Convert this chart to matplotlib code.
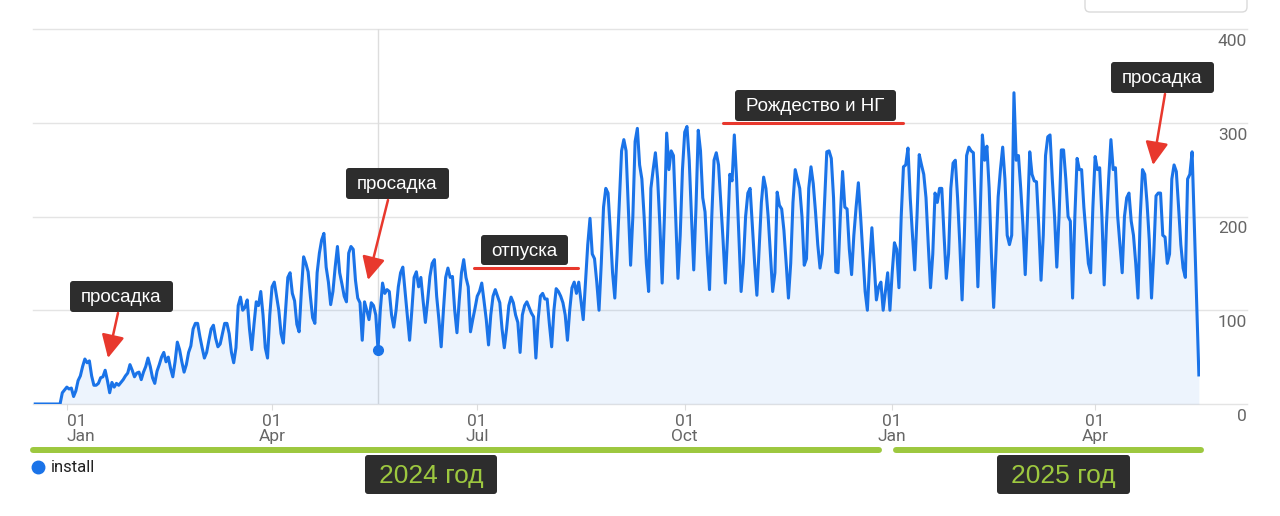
import matplotlib
matplotlib.use('Agg')
import matplotlib.pyplot as plt
from matplotlib.patches import FancyBboxPatch, FancyArrowPatch
from matplotlib.lines import Line2D
from matplotlib.transforms import IdentityTransform
import pandas as pd

# daily installs, one list per month (first list starts 18 Dec 2023)
start_date = '2023-12-18'
dec_2023 = [0, 0, 0, 0, 0, 0, 0, 0, 0, 0, 0, 0, 12, 15]
jan_2024 = [18, 16, 17, 8, 14, 25, 30, 40, 48, 44, 46, 30, 20, 20, 22, 28, 29, 36, 25, 12,
            23, 18, 22, 20, 23, 26, 30, 33, 42, 36, 29]
feb_2024 = [33, 34, 26, 34, 40, 49, 40, 28, 22, 35, 42, 50, 55, 45, 50, 38, 29, 45, 66, 58,
            45, 34, 42, 55, 62, 80, 86, 86, 72]
mar_2024 = [60, 49, 55, 68, 80, 84, 70, 61, 64, 75, 86, 86, 75, 55, 44, 60, 105, 114, 100, 103,
            111, 80, 58, 85, 109, 105, 120, 95, 60, 49, 95]
apr_2024 = [125, 130, 115, 100, 75, 65, 100, 135, 140, 118, 110, 85, 77, 120, 157, 150, 141, 115, 92, 86,
            140, 161, 175, 182, 146, 130, 106, 120, 146, 168]
may_2024 = [140, 128, 115, 109, 161, 168, 165, 132, 113, 108, 68, 109, 100, 90, 108, 105, 95, 58, 100, 129,
            118, 122, 120, 95, 82, 100, 125, 140, 146, 120, 95]
jun_2024 = [68, 100, 135, 141, 125, 135, 110, 87, 110, 136, 150, 154, 115, 90, 61, 100, 135, 145, 135, 136,
            100, 76, 110, 140, 154, 135, 125, 77, 90, 102]
jul_2024 = [115, 120, 129, 110, 90, 63, 95, 115, 122, 115, 108, 80, 60, 80, 105, 114, 108, 95, 87, 55,
            95, 105, 109, 103, 97, 93, 49, 90, 115, 118, 112]
aug_2024 = [112, 85, 61, 100, 123, 120, 115, 108, 95, 68, 100, 124, 130, 118, 130, 110, 90, 130, 170, 198,
            160, 155, 130, 100, 150, 210, 230, 225, 185, 140, 113]
sep_2024 = [160, 215, 270, 282, 270, 210, 148, 200, 280, 294, 255, 240, 200, 150, 120, 230, 250, 268, 240, 190,
            129, 200, 289, 250, 270, 265, 200, 134, 180, 250]
oct_2024 = [290, 296, 260, 200, 143, 210, 292, 270, 220, 205, 160, 122, 200, 260, 268, 255, 215, 175, 129, 180,
            245, 238, 287, 240, 180, 120, 150, 200, 225, 230, 190]
nov_2024 = [150, 116, 165, 215, 242, 230, 200, 160, 120, 140, 226, 212, 208, 185, 150, 113, 150, 215, 250, 240,
            230, 200, 148, 155, 230, 253, 235, 205, 170, 145]
dec_2024 = [160, 215, 269, 270, 262, 220, 141, 140, 200, 248, 210, 208, 165, 138, 180, 210, 236, 200, 160, 120,
            100, 150, 188, 150, 111, 125, 130, 100, 120, 140, 100]
jan_2025 = [140, 172, 165, 124, 200, 253, 255, 273, 220, 180, 143, 200, 266, 255, 245, 220, 170, 124, 160, 225,
            215, 230, 230, 180, 134, 160, 230, 257, 260, 220, 170]
feb_2025 = [111, 180, 265, 274, 270, 268, 200, 125, 200, 287, 260, 275, 230, 160, 103, 160, 221, 250, 274, 240,
            180, 170, 180, 332, 260, 265, 230, 190]
mar_2025 = [138, 200, 269, 245, 238, 237, 190, 132, 180, 265, 285, 287, 240, 200, 146, 200, 271, 271, 240, 200,
            195, 113, 200, 262, 250, 250, 210, 180, 150, 140, 210]
apr_2025 = [264, 250, 252, 200, 127, 190, 240, 282, 250, 252, 200, 170, 140, 200, 220, 225, 195, 180, 150, 113,
            200, 250, 245, 215, 175, 113, 160, 222, 225, 225]
may_2025 = [180, 178, 150, 160, 240, 255, 248, 210, 170, 145, 135, 240, 245, 269, 190, 110, 31]

hover_date = '2024-05-18'
y_ticks = [0, 100, 200, 300, 400]
x_tick_dates = ['2024-01-01', '2024-04-01', '2024-07-01', '2024-10-01', '2025-01-01', '2025-04-01']
x_tick_labels = ['01\nJan', '01\nApr', '01\nJul', '01\nOct', '01\nJan', '01\nApr']

values = (dec_2023 + jan_2024 + feb_2024 + mar_2024 + apr_2024 + may_2024 + jun_2024 + jul_2024
          + aug_2024 + sep_2024 + oct_2024 + nov_2024 + dec_2024 + jan_2025 + feb_2025 + mar_2025
          + apr_2025 + may_2025)
df = pd.DataFrame({'install': values},
                  index=pd.date_range(start_date, periods=len(values), freq='D'))

BLUE = '#1a73e8'
RED = '#e8382d'
GREEN = '#9dc83f'
DARK = '#2d2d2d'
GRID = '#e4e4e4'
W, H = 1280, 516

plt.rcParams['font.family'] = ['Liberation Sans', 'DejaVu Sans']

fig = plt.figure(figsize=(W / 100, H / 100), dpi=100)
ax = fig.add_axes([33 / W, 1 - 404 / H, (1200 - 33) / W, (404 - 29) / H])
ax.set_facecolor('none')

# gridlines reach out to the right-hand labels
for v in y_ticks:
    ax.plot([0, 1.0403], [v, v], transform=ax.get_yaxis_transform(), color=GRID,
            lw=1, clip_on=False, zorder=0)
    ax.annotate(str(v), xy=(1.0403, v), xycoords=ax.get_yaxis_transform(),
                xytext=(0, -3.5), textcoords='offset points', ha='right', va='top',
                fontsize=12.5, color='#666666', family='Roboto', annotation_clip=False)

hover = pd.Timestamp(hover_date)
ax.axvline(hover, color='#dddddd', lw=1, zorder=1)

ax.fill_between(df.index, df['install'], 0, color=BLUE, alpha=0.08, lw=0, zorder=2)
ax.plot(df.index, df['install'], color=BLUE, lw=2.2, zorder=3, solid_joinstyle='round')
ax.plot([hover], [df.loc[hover, 'install']], 'o', color=BLUE, ms=7, zorder=4)

ax.set_ylim(0, 400)
ax.set_xlim(df.index[0] - pd.Timedelta(days=1), df.index[-1] + pd.Timedelta(hours=12))
ax.set_yticks([])
ax.set_xticks(pd.to_datetime(x_tick_dates))
ax.set_xticklabels(x_tick_labels, fontsize=12.5, color='#666666', family='Roboto',
                   linespacing=1.0)
ax.get_xticklabels()[0].set_horizontalalignment('left')
ax.tick_params(axis='x', length=4, color='#dddddd', pad=3)
for s in ax.spines.values():
    s.set_visible(False)

ident = IdentityTransform()


def P(x, y):
    return (x, H - y)


def dark_box(x0, y0, x1, y1, text, color='white', size=13.5):
    box = FancyBboxPatch(P(x0, y1), x1 - x0, y1 - y0,
                         boxstyle='round,pad=0,rounding_size=3',
                         transform=ident, fc=DARK, ec='none', zorder=5)
    fig.add_artist(box)
    fig.text(*P((x0 + x1) / 2, (y0 + y1) / 2 + 1), text, transform=ident,
             ha='center', va='center', color=color, fontsize=size, zorder=6)


def arrow(a, b):
    fig.add_artist(FancyArrowPatch(P(*a), P(*b), transform=ident,
                                   arrowstyle='-|>,head_length=0.7,head_width=0.35',
                                   mutation_scale=20, color=RED, lw=1.8,
                                   shrinkA=0, shrinkB=0, zorder=6))


def bar(x0, x1, y, color, lw):
    fig.add_artist(Line2D([x0, x1], [H - y, H - y], transform=ident, color=color,
                          lw=lw, solid_capstyle='round', zorder=5))


# annotations
dark_box(70, 281, 173, 312, 'просадка')
arrow((118, 313), (108, 358))
dark_box(346, 168, 449, 199, 'просадка')
arrow((388, 200), (368, 280))
dark_box(481, 235, 568, 265, 'отпуска')
bar(474, 578, 268, RED, 2.2)
dark_box(735, 90, 896, 121, 'Рождество и НГ')
bar(723, 903, 123, RED, 2.2)
dark_box(1111, 62, 1214, 93, 'просадка')
arrow((1165, 94), (1153, 165))

# year bars
bar(33, 879, 450, GREEN, 4.3)
bar(896, 1201, 450, GREEN, 4.3)
dark_box(365, 455, 497, 494, '2024 год', color=GREEN, size=19)
dark_box(997, 455, 1130, 494, '2025 год', color=GREEN, size=19)

# legend
fig.add_artist(Line2D([38], [H - 467], transform=ident, marker='o', ms=9,
                      color=BLUE, lw=0))
fig.text(*P(51, 467), 'install', transform=ident, ha='left', va='center',
         fontsize=12, color='#222222', family='Roboto')

# cut-off control box at the top right
fig.add_artist(FancyBboxPatch(P(1085, 12), 162, 24, boxstyle='round,pad=0,rounding_size=5',
                              transform=ident, fc='white', ec='#dadada', lw=1))

fig.savefig('out.png', dpi=100, facecolor='white')
